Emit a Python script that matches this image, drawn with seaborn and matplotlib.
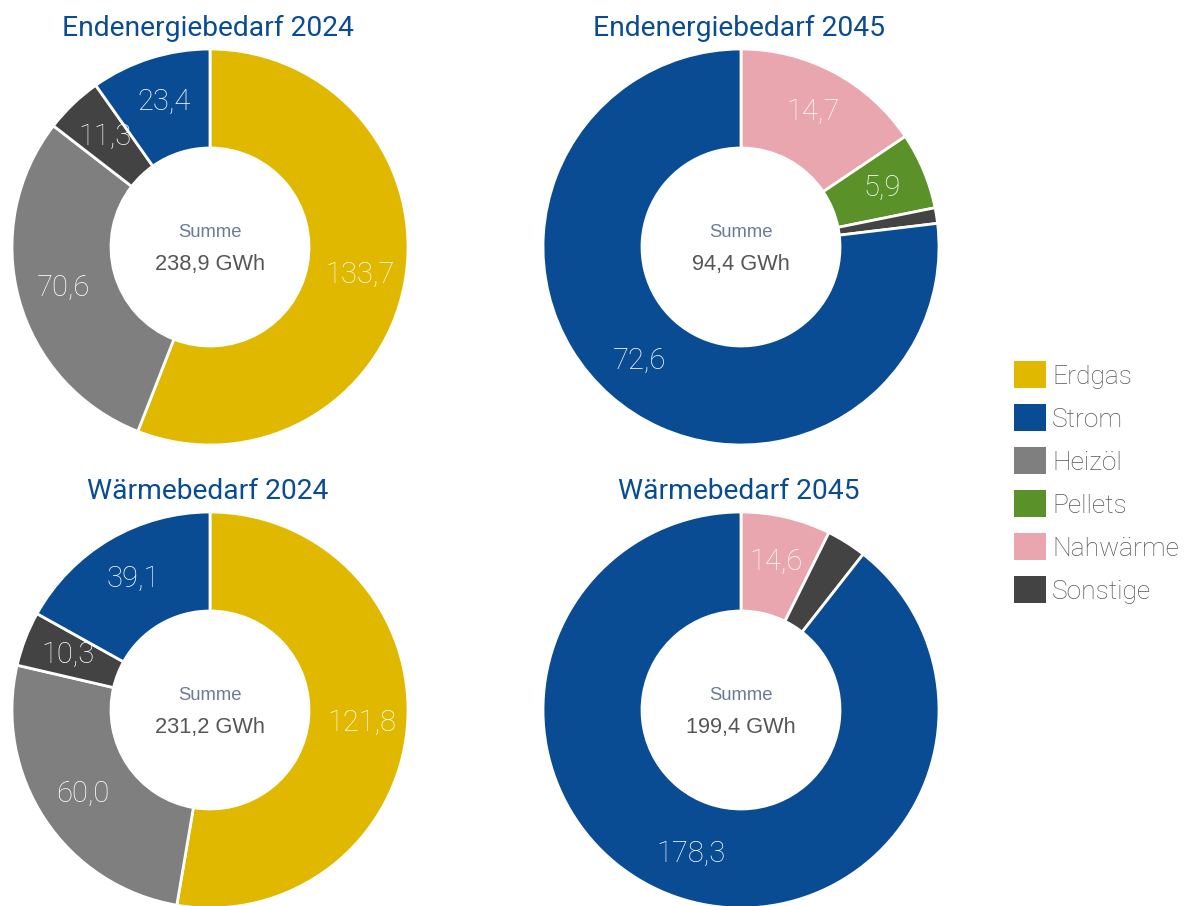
import matplotlib
matplotlib.use("Agg")
import matplotlib.pyplot as plt
import seaborn as sns
from matplotlib.patches import Patch
import numpy as np

sns.set_theme(style="white")
plt.rcParams["font.family"] = ["Roboto", "DejaVu Sans"]

# Energy carriers and their colours
carriers = ["Erdgas", "Strom", "Heizöl", "Pellets", "Nahwärme", "Sonstige"]
colors = ["#e0b800", "#0a4c94", "#7f7f7f", "#5a9128", "#e9a6ae", "#434343"]
palette = dict(zip(carriers, colors))

# Donut data (GWh), listed clockwise from 12 o'clock
end24_labels = ["Erdgas", "Heizöl", "Sonstige", "Strom"]
end24_values = [133.7, 70.6, 11.3, 23.4]
end24_total = "238,9 GWh"

end45_labels = ["Nahwärme", "Pellets", "Sonstige", "Strom"]
end45_values = [14.7, 5.9, 1.2, 72.6]
end45_total = "94,4 GWh"

waerme24_labels = ["Erdgas", "Heizöl", "Sonstige", "Strom"]
waerme24_values = [121.8, 60.0, 10.3, 39.1]
waerme24_total = "231,2 GWh"

waerme45_labels = ["Nahwärme", "Sonstige", "Strom"]
waerme45_values = [14.6, 6.5, 178.3]
waerme45_total = "199,4 GWh"

titles = ["Endenergiebedarf 2024", "Endenergiebedarf 2045",
          "Wärmebedarf 2024", "Wärmebedarf 2045"]

W, H = 1185, 906
fig = plt.figure(figsize=(W / 100, H / 100), dpi=100)
TITLE_COLOR = "#0a4c94"


def fmt(v):
    return f"{v:.1f}".replace(".", ",")


def donut(cx, cy, r, labels, values, total, title):
    ax = fig.add_axes([(cx - r) / W, (H - cy - r) / H, 2 * r / W, 2 * r / H])
    wedges, _ = ax.pie(values, colors=[palette[l] for l in labels],
                       startangle=90, counterclock=False, radius=1.0,
                       wedgeprops=dict(width=0.5, edgecolor="white", linewidth=2))
    s = sum(values)
    for w, v in zip(wedges, values):
        # small slices stay unlabelled
        if v / s < 0.04:
            continue
        ang = np.deg2rad((w.theta1 + w.theta2) / 2)
        rr = 0.77
        ax.text(rr * np.cos(ang), rr * np.sin(ang), fmt(v), ha="center", va="center",
                color="white", fontsize=21, fontweight="light")
    ax.text(0, 0.075, "Summe", ha="center", va="center", fontsize=13.3,
            color="#6b7a99", family=["Liberation Sans", "DejaVu Sans"])
    ax.text(0, -0.09, total, ha="center", va="center", fontsize=15.7,
            color="#555555", family=["Liberation Sans", "DejaVu Sans"])
    ax.set_xlim(-1, 1)
    ax.set_ylim(-1, 1)
    ax.axis("off")
    fig.text((cx - 2) / W, 1 - (cy - 211) / H, title, ha="center", va="baseline",
             fontsize=20.3, color=TITLE_COLOR)
    return ax


donut(210, 247, 198, end24_labels, end24_values, end24_total, titles[0])
donut(741, 247, 198, end45_labels, end45_values, end45_total, titles[1])
donut(210, 710, 198, waerme24_labels, waerme24_values, waerme24_total, titles[2])
donut(741, 710, 198, waerme45_labels, waerme45_values, waerme45_total, titles[3])

handles = [Patch(facecolor=palette[c], edgecolor="none") for c in carriers]
fs = 19
em = fs * 100 / 72
fig.legend(handles=handles, labels=carriers, loc="upper left",
           bbox_to_anchor=(1014 / W, 1 - 361 / H), frameon=False,
           handlelength=32 / em, handleheight=32 / em,
           handletextpad=6 / em, labelspacing=15.5 / em, borderpad=0,
           borderaxespad=0, labelcolor="#555555",
           prop=dict(weight="light", size=fs))

fig.savefig("out.png", dpi=100, facecolor="white")
